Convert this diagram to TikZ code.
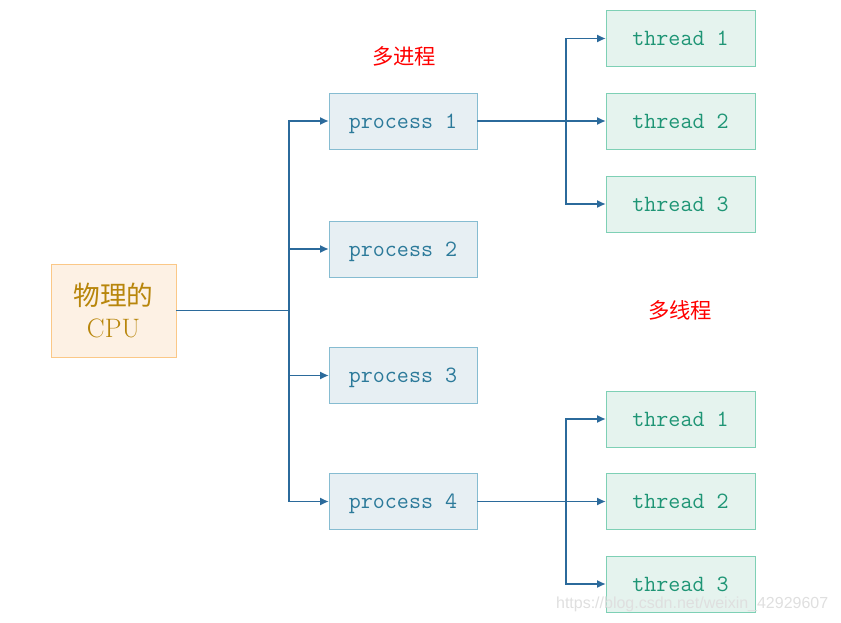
\documentclass[tikz,border=0pt]{standalone}
\usepackage{fontspec}
\newfontfamily\cjk{Noto Sans CJK SC}
\newfontfamily\wm{Liberation Sans}
\usetikzlibrary{arrows.meta}
\definecolor{cpufill}{HTML}{FDF1E4}
\definecolor{cpuline}{HTML}{FBC887}
\definecolor{cputext}{HTML}{B8860B}
\definecolor{pfill}{HTML}{E7EFF3}
\definecolor{pline}{HTML}{86BCD1}
\definecolor{ptext}{HTML}{2C7A9A}
\definecolor{tfill}{HTML}{E5F3EE}
\definecolor{tline}{HTML}{7ED0B5}
\definecolor{ttext}{HTML}{1E9575}
\definecolor{conn}{HTML}{2B6A9B}
\tikzset{
  cpubox/.style={draw=cpuline, fill=cpufill, text=cputext, minimum width=125*0.75pt, minimum height=93*0.75pt, inner sep=0pt, align=center, font=\fontsize{20}{24}\selectfont},
  procbox/.style={draw=pline, fill=pfill, text=ptext, minimum width=148*0.75pt, minimum height=56*0.75pt, inner sep=0pt, text depth=0pt, font=\ttfamily\fontsize{17.5}{18}\selectfont},
  thrbox/.style={draw=tline, fill=tfill, text=ttext, minimum width=149*0.75pt, minimum height=56*0.75pt, inner sep=0pt, text depth=0pt, font=\ttfamily\fontsize{17.5}{18}\selectfont},
  redlabel/.style={text=red, font=\cjk\fontsize{16}{18}\selectfont},
  link/.style={draw=conn, line width=0.9pt},
  arr/.style={link, -{Latex[length=6.5pt,width=6pt]}},
}
\begin{document}
\begin{tikzpicture}[x=0.75pt, y=-0.75pt]
\useasboundingbox (0,0) rectangle (841,623);
\node[cpubox] (cpu) at (113.5,310.5) {{\cjk 物理的}\\CPU};
\node[procbox] (p1) at (403,121) {process 1};
\node[procbox] (p2) at (403,249) {process 2};
\node[procbox] (p3) at (403,375.5) {process 3};
\node[procbox] (p4) at (403,501.5) {process 4};
\node[thrbox] (t1) at (680.5,38.5) {thread 1};
\node[thrbox] (t2) at (680.5,121) {thread 2};
\node[thrbox] (t3) at (680.5,204) {thread 3};
\node[thrbox] (t4) at (680.5,419) {thread 1};
\node[thrbox] (t5) at (680.5,501.5) {thread 2};
\node[thrbox] (t6) at (680.5,584) {thread 3};
\node[redlabel] (l1) at (404,56) {多进程};
\node[redlabel] (l2) at (680,310) {多线程};
\node[text=gray!25, font=\wm\fontsize{12}{14}\selectfont, anchor=east] (wm) at (833,604) {https://blog.csdn.net/weixin\_42929607};
\coordinate (j0) at (289,310.5);
\coordinate (j1) at (566,121);
\coordinate (j2) at (566,501.5);
\draw[link] (cpu.east) -- (j0);
\foreach \p in {p1,p2,p3,p4} \draw[arr] (j0) |- (\p.west);
\draw[link] (p1.east) -- (j1);
\foreach \t in {t1,t2,t3} \draw[arr] (j1) |- (\t.west);
\draw[link] (p4.east) -- (j2);
\foreach \t in {t4,t5,t6} \draw[arr] (j2) |- (\t.west);
\end{tikzpicture}
\end{document}
